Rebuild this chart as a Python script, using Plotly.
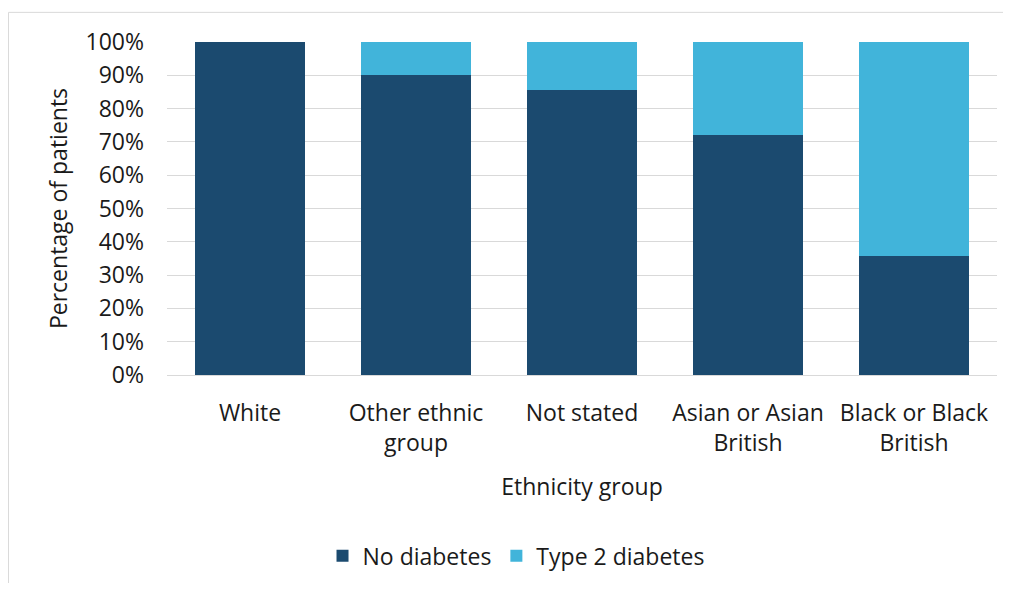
import plotly.graph_objects as go

categories = ["White", "Other ethnic<br>group", "Not stated", "Asian or Asian<br>British", "Black or Black<br>British"]
no_diabetes = [100.0, 90.0, 85.7, 72.2, 35.6]
type2_diabetes = [0.0, 10.0, 14.3, 27.8, 64.4]
y_ticks = [0, 10, 20, 30, 40, 50, 60, 70, 80, 90, 100]
y_tick_labels = [f"{v}%" for v in y_ticks]

dark = "#1B4A6F"
light = "#41B4DA"
font_family = "Open Sans, Noto Sans, sans-serif"
fs = 23

fig = go.Figure()
fig.add_trace(go.Bar(x=categories, y=no_diabetes, name="No diabetes", marker=dict(color=dark, line=dict(width=0))))
fig.add_trace(go.Bar(x=categories, y=type2_diabetes, name="Type 2 diabetes", marker=dict(color=light, line=dict(width=0))))

fig.update_layout(
    barmode="stack",
    bargap=0.34,
    width=995,
    height=575,
    margin=dict(l=159, r=6, t=34, b=200),
    paper_bgcolor="white",
    plot_bgcolor="white",
    font=dict(family=font_family, size=fs, color="#1a1a1a"),
    showlegend=True,
    legend=dict(orientation="h", x=0.4205, xanchor="center", y=-0.543, yanchor="middle",
                font=dict(size=fs), traceorder="normal"),
    xaxis=dict(
        title=dict(text="Ethnicity group", font=dict(size=fs), standoff=21),
        tickfont=dict(size=fs),
        ticklabelstandoff=22,
        showgrid=False,
        showline=False,
        ticks="",
    ),
    yaxis=dict(
        title=dict(text="Percentage of patients", font=dict(size=fs), standoff=11),
        range=[0, 100],
        tickvals=y_ticks,
        ticktext=y_tick_labels,
        tickfont=dict(size=fs),
        ticklabelstandoff=22,
        showgrid=True,
        gridcolor="#d9d9d9",
        gridwidth=1,
        zeroline=True,
        zerolinecolor="#d9d9d9",
        zerolinewidth=1,
        ticks="",
    ),
    shapes=[
        dict(type="rect", xref="paper", yref="paper", x0=-0.191, x1=1.2, y0=-0.7, y1=1.089,
             line=dict(color="#d9d9d9", width=1), fillcolor="rgba(0,0,0,0)", layer="below"),
    ],
)

fig.write_html("out.html")
